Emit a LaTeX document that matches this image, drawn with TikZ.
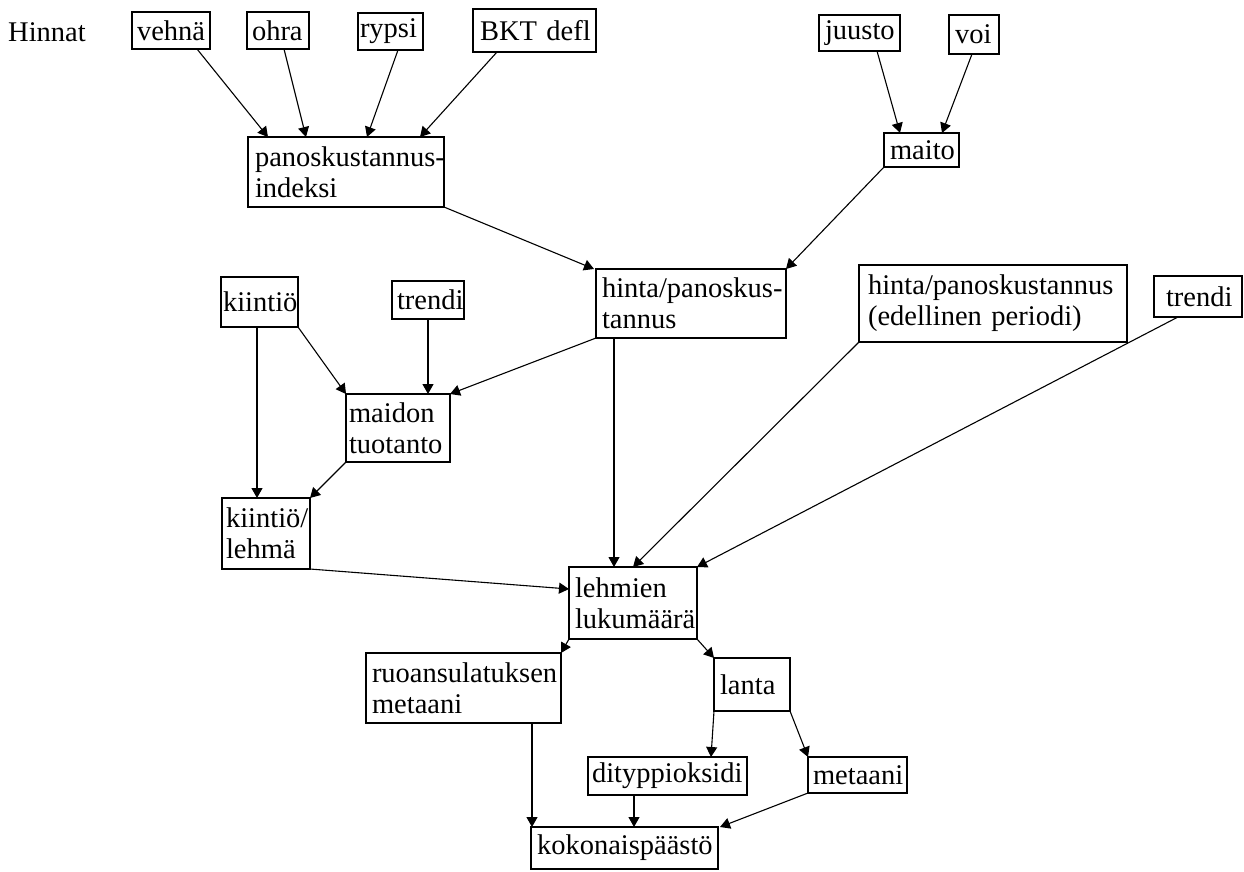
\documentclass[tikz,border=0pt]{standalone}
\usepackage{fontspec}
\setmainfont{Liberation Serif}
\usetikzlibrary{arrows.meta}

\tikzset{
  box/.style={draw=black, line width=1.8pt, anchor=north west, inner sep=0pt,
    outer sep=0pt, align=left, font=\fontsize{28.5}{31}\selectfont,
    execute at begin node={\hyphenpenalty=10000\exhyphenpenalty=10000\hbadness=10000\hfuzz=200pt}},
  link/.style={draw=black, line width=1.1pt, -{Triangle[length=10pt,width=11pt]}},
}

\begin{document}
\begin{tikzpicture}[x=1pt,y=-1pt]
\useasboundingbox (0,0) rectangle (1244,871);

% ---- prices ----
\node[anchor=base west, inner sep=0pt, font=\fontsize{28.5}{31}\selectfont] (hinnat) at (8,41) {Hinnat};
\node[box, minimum width=78pt,  minimum height=37pt, text width=68pt]  (vehna)  at (132,12) {vehnä};
\node[box, minimum width=62pt,  minimum height=37pt, text width=52pt]  (ohra)   at (247,12) {ohra};
\node[box, minimum width=65pt,  minimum height=37pt, text width=61pt]  (rypsi)  at (358,13) {rypsi};
\node[box, minimum width=123pt, minimum height=43pt, text width=109pt] (bkt)    at (473,9)  {BKT~defl};
\node[box, minimum width=81pt,  minimum height=36pt, text width=69pt]  (juusto) at (819,15) {juusto};
\node[box, minimum width=50pt,  minimum height=39pt, text width=38pt]  (voi)    at (949,15) {voi};

% ---- indices ----
\node[box, minimum width=196pt, minimum height=70pt, text width=182pt] (panos) at (248,137) {panoskustannus-\\indeksi};
\node[box, minimum width=75pt,  minimum height=34pt, text width=63pt]  (maito) at (884,133) {maito};
\node[box, minimum width=190pt, minimum height=69pt, text width=178pt] (hinta) at (596,269) {hinta/panoskus-\\tannus};
\node[box, minimum width=268pt, minimum height=77pt, text width=250pt] (edell) at (859,265) {hinta/panoskustannus\\(edellinen~periodi)};
\node[box, minimum width=88pt,  minimum height=41pt, text width=64pt]  (trendiB) at (1154,276) {trendi};

% ---- production ----
\node[box, minimum width=77pt,  minimum height=50pt, text width=73pt]  (kiintio) at (221,277) {kiintiö};
\node[box, minimum width=72pt,  minimum height=38pt, text width=62pt]  (trendiA) at (392,281) {trendi};
\node[box, minimum width=104pt, minimum height=68pt, text width=98pt]  (maidon)  at (346,394) {maidon\\tuotanto};
\node[box, minimum width=88pt,  minimum height=71pt, text width=80pt]  (kl)      at (222,498) {kiintiö/\\lehmä};
\node[box, minimum width=128pt, minimum height=72pt, text width=116pt] (lehmien) at (569,567) {lehmien\\lukumäärä};

% ---- emissions ----
\node[box, minimum width=195pt, minimum height=70pt, text width=183pt] (ruoan)   at (366,653) {ruoansulatuksen\\metaani};
\node[box, minimum width=76pt,  minimum height=53pt, text width=64pt]  (lanta)   at (714,658) {lanta};
\node[box, minimum width=159pt, minimum height=38pt, text width=151pt] (dityp)   at (588,757) {dityppioksidi};
\node[box, minimum width=99pt,  minimum height=36pt, text width=89pt]  (metaani) at (808,757) {metaani};
\node[box, minimum width=187pt, minimum height=42pt, text width=175pt] (koko)    at (531,827) {kokonaispäästö};

% ---- connectors ----
\draw[link] ([xshift=-13pt]vehna.south east) -- ([xshift=20pt]panos.north west);
\draw[link] ([xshift=37pt]ohra.south west)   -- ([xshift=58pt]panos.north west);
\draw[link] ([xshift=40pt]rypsi.south west)  -- ([xshift=119pt]panos.north west);
\draw[link] ([xshift=24pt]bkt.south west)    -- ([xshift=-24pt]panos.north east);
\draw[link] ([xshift=58pt]juusto.south west) -- ([xshift=16pt]maito.north west);
\draw[link] ([xshift=23pt]voi.south west)    -- ([xshift=58pt]maito.north west);

\draw[link] (panos.south east) -- ([xshift=-2pt]hinta.north west);
\draw[link] (maito.south west) -- (hinta.north east);
\draw[link] (hinta.south west) -- (maidon.north east);
\draw[link] ([xshift=18pt]hinta.south west) -- ([xshift=45pt]lehmien.north west);

\draw[link] (kiintio.south east) -- (maidon.north west);
\draw[link] (trendiA.south) -- ([xshift=82pt]maidon.north west);
\draw[link] ([xshift=36pt]kiintio.south west) -- ([xshift=35pt]kl.north west);
\draw[link] (maidon.south west) -- (kl.north east);
\draw[link] (kl.south east) -- ([yshift=-22pt]lehmien.north west);
\draw[link] (edell.south west) -- ([xshift=64pt]lehmien.north west);
\draw[link] ([xshift=24pt]trendiB.south west) -- (lehmien.north east);

\draw[link] (lehmien.south west) -- (ruoan.north east);
\draw[link] (lehmien.south east) -- (lanta.north west);
\draw[link] (lanta.south west) -- ([xshift=123pt]dityp.north west);
\draw[link] (lanta.south east) -- (metaani.north west);
\draw[link] (metaani.south west) -- ([xshift=2pt]koko.north east);
\draw[link] ([xshift=-29pt]ruoan.south east) -- ([xshift=1pt]koko.north west);
\draw[link] ([xshift=46pt]dityp.south west) -- ([xshift=103pt]koko.north west);
\end{tikzpicture}
\end{document}
